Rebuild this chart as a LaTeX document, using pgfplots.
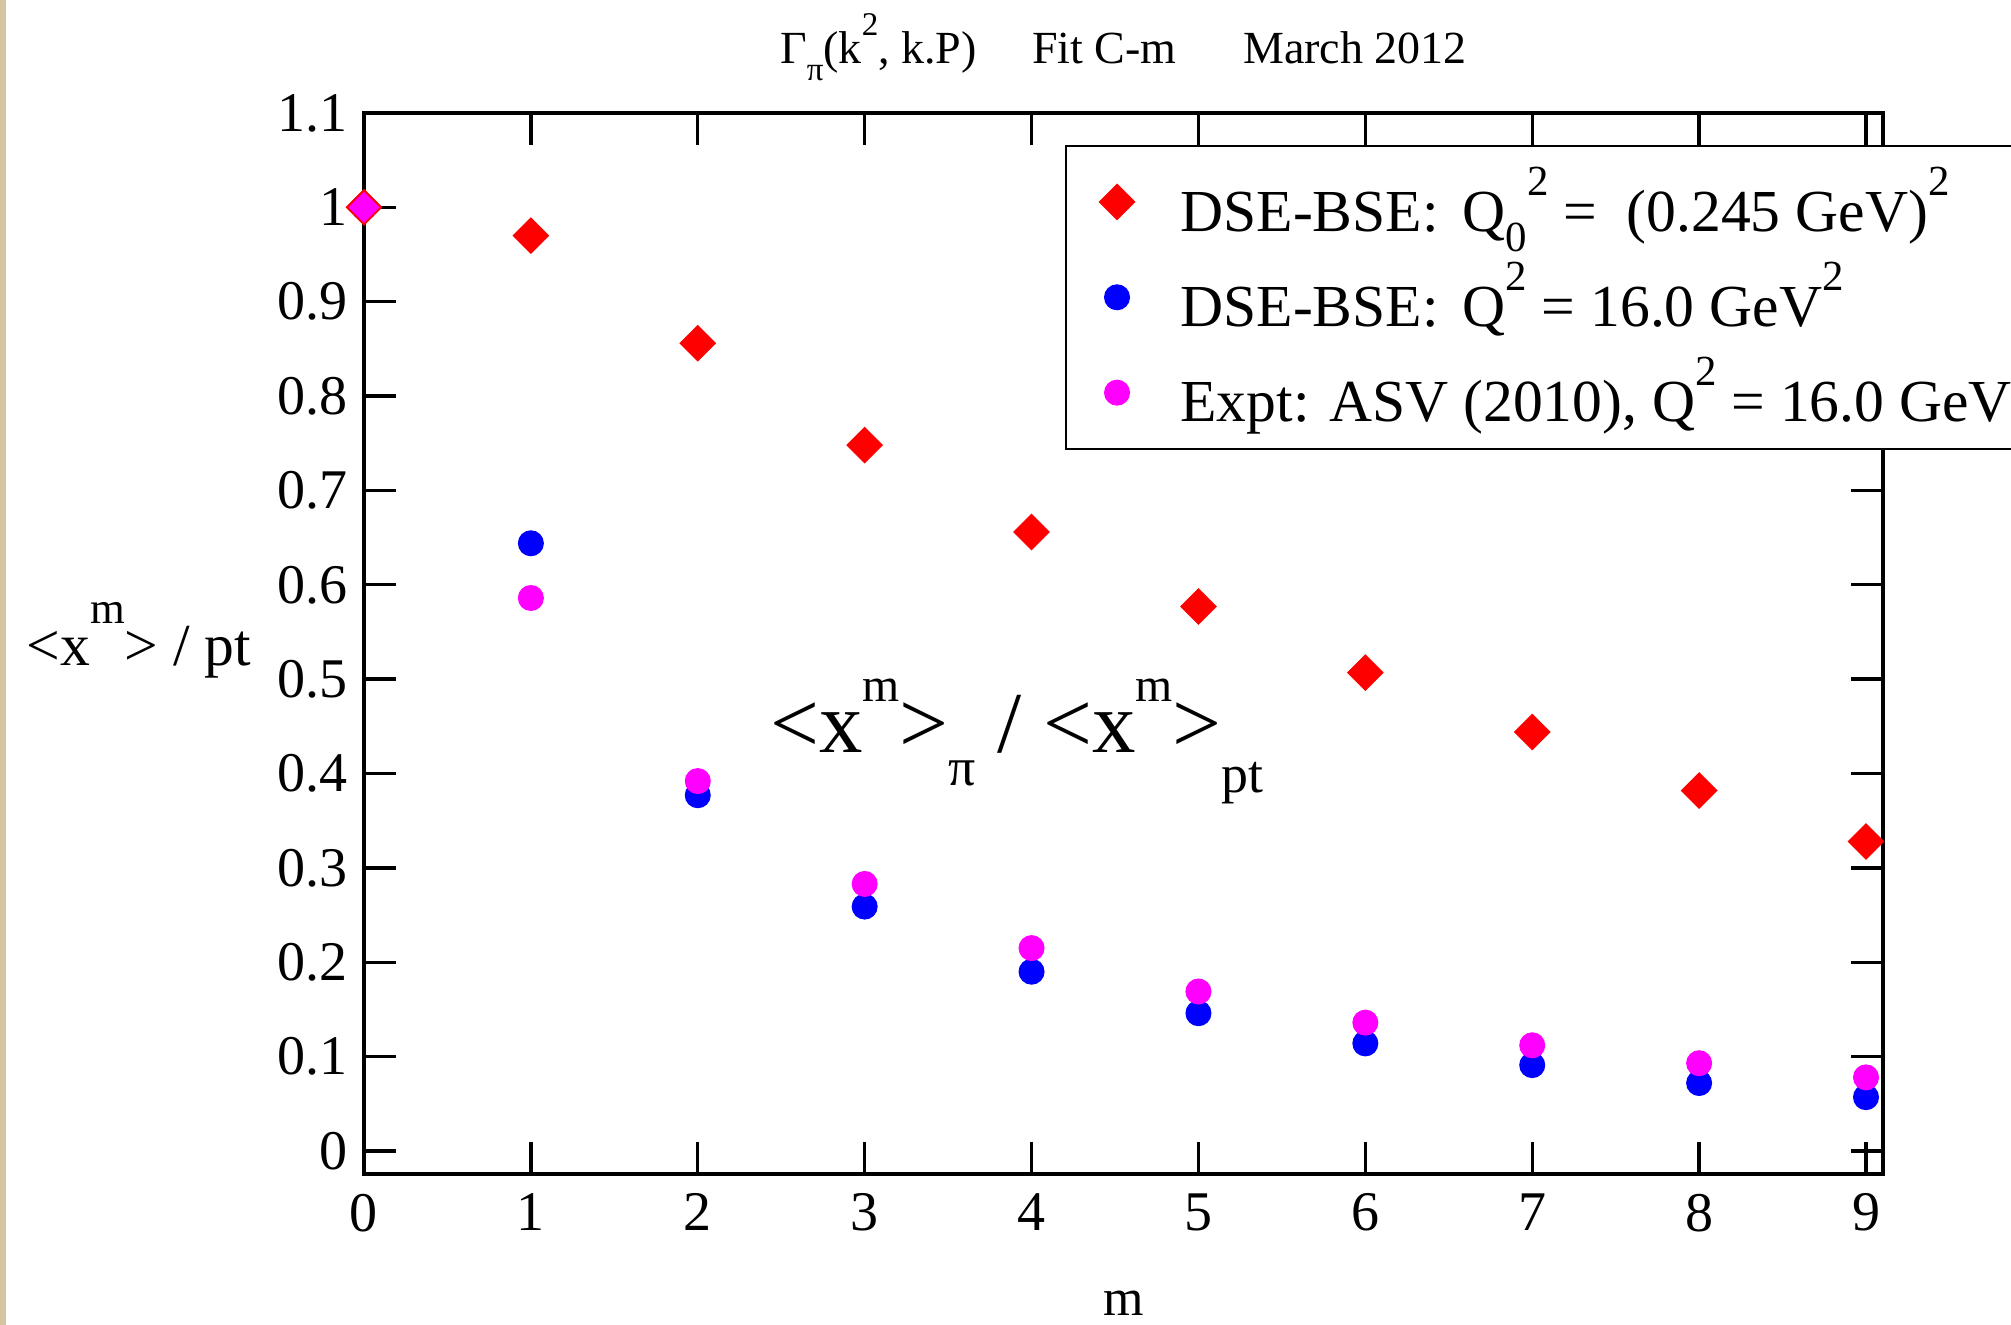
\documentclass[border=0pt]{standalone}
\usepackage{fontspec}
\setmainfont{Liberation Serif}
\usepackage{graphicx}
\usepackage{pgfplots}
\pgfplotsset{compat=1.18}
\definecolor{beige}{RGB}{214,196,160}
\definecolor{mymag}{RGB}{255,0,255}
\definecolor{myred}{RGB}{255,0,0}
\definecolor{myblue}{RGB}{0,0,255}
\newcommand{\Sup}[3]{\raisebox{#2em}{\scalebox{#1}{#3}}}
\newcommand{\Sub}[3]{\raisebox{-#2em}{\scalebox{#1}{#3}}}
\begin{document}
\begin{tikzpicture}
\fill[beige] (-91pt,-37.75pt) rectangle (-89.5pt,293.5pt);
\begin{axis}[
  at={(0pt,0pt)}, anchor=south west,
  scale only axis, width=379.75pt, height=265.25pt,
  xmin=0, xmax=9.102, ymin=-0.0244, ymax=1.1,
  clip=false, axis on top,
  xtick={0,1,2,3,4,5,6,7,8,9},
  ytick={0,0.1,0.2,0.3,0.4,0.5,0.6,0.7,0.8,0.9,1,1.1},
  yticklabels={0,0.1,0.2,0.3,0.4,0.5,0.6,0.7,0.8,0.9,1,1.1},
  tick align=inside, major tick length=8pt,
  tick style={line width=0.85pt, black},
  axis line style={line width=0.9pt},
  /pgf/number format/assume math mode=true,
  tick label style={font=\fontsize{14}{16}\selectfont, inner sep=0pt},
  yticklabel style={xshift=-4pt},
  xticklabel style={yshift=-4.75pt},
  title={Γ\Sub{0.72}{0.35}{π}(k\Sup{0.72}{0.62}{2}, k.P)\hspace{1.2em}Fit C-m\hspace{1.45em}March 2012},
  every axis title/.style={at={(axis description cs:0.5,1.0462)}, anchor=base, inner sep=0pt, font=\fontsize{11.5}{14}\selectfont},
  ylabel={<x\Sup{0.75}{0.7}{m}> / pt},
  every axis y label/.style={at={(axis description cs:-0.2225,0.4797)}, anchor=base west, inner sep=0pt, font=\fontsize{14.9}{17}\selectfont},
  xlabel={m},
  every axis x label/.style={at={(axis description cs:0.5,-0.1338)}, anchor=base, inner sep=0pt, font=\fontsize{13}{16}\selectfont},
  legend image code/.code={\path (-12.5pt,-8pt) (13.6pt,10.5pt); \draw[#1] plot coordinates {(0pt,0pt)};},
  legend cell align=left,
  legend style={
    at={(rel axis cs:0.4615,0.9698)}, anchor=north west,
    draw=black, line width=0.5pt, fill=white,
    inner xsep=0pt, inner ysep=3.2pt,
    cells={inner sep=0pt},
    row sep=2.3pt,
    font=\fontsize{14.9}{17}\selectfont,
  },
]
\addplot[only marks, mark=square*, mark size=3.1pt, mark options={rotate=45, fill=myred, draw=myred, line width=0.3pt}]
  coordinates {(0,1.0) (1,0.970) (2,0.856) (3,0.748) (4,0.656) (5,0.577) (6,0.507) (7,0.444) (8,0.382) (9,0.328)};
\addlegendentry{DSE-BSE:\hspace{0.4em}Q\Sub{0.72}{0.35}{0}\Sup{0.72}{0.6}{2} =\ \ (0.245 GeV)\Sup{0.72}{0.6}{2}}
\addplot[only marks, mark=*, mark size=3.1pt, mark options={fill=myblue, draw=myblue, line width=0.3pt}]
  coordinates {(0,1.0) (1,0.644) (2,0.377) (3,0.259) (4,0.190) (5,0.146) (6,0.114) (7,0.091) (8,0.072) (9,0.057)};
\addlegendentry{DSE-BSE:\hspace{0.4em}Q\Sup{0.72}{0.6}{2} = 16.0 GeV\Sup{0.72}{0.6}{2}}
\addplot[only marks, mark=*, mark size=3.1pt, mark options={fill=mymag, draw=mymag, line width=0.3pt}]
  coordinates {(0,1.0) (1,0.586) (2,0.392) (3,0.283) (4,0.215) (5,0.169) (6,0.136) (7,0.112) (8,0.093) (9,0.078)};
\addlegendentry{Expt: ASV (2010), Q\Sup{0.72}{0.6}{2} = 16.0 GeV\Sup{0.72}{0.6}{2}}
\addplot[forget plot, only marks, mark=square*, mark size=3.0pt, mark options={rotate=45, fill=mymag, draw=myred, line width=0.4pt}]
  coordinates {(0,1.0)};
\node[anchor=base west, inner sep=0pt, font=\fontsize{21.7}{25}\selectfont] at (axis cs:2.43,0.4218)
  {<x\Sup{0.55}{0.59}{m}>\Sub{0.62}{0.37}{π} / <x\Sup{0.55}{0.59}{m}>\Sub{0.62}{0.45}{pt}};
\end{axis}
\pgfresetboundingbox
\useasboundingbox (-91pt,-37.75pt) rectangle (411.75pt,293.5pt);
\end{tikzpicture}
\end{document}
